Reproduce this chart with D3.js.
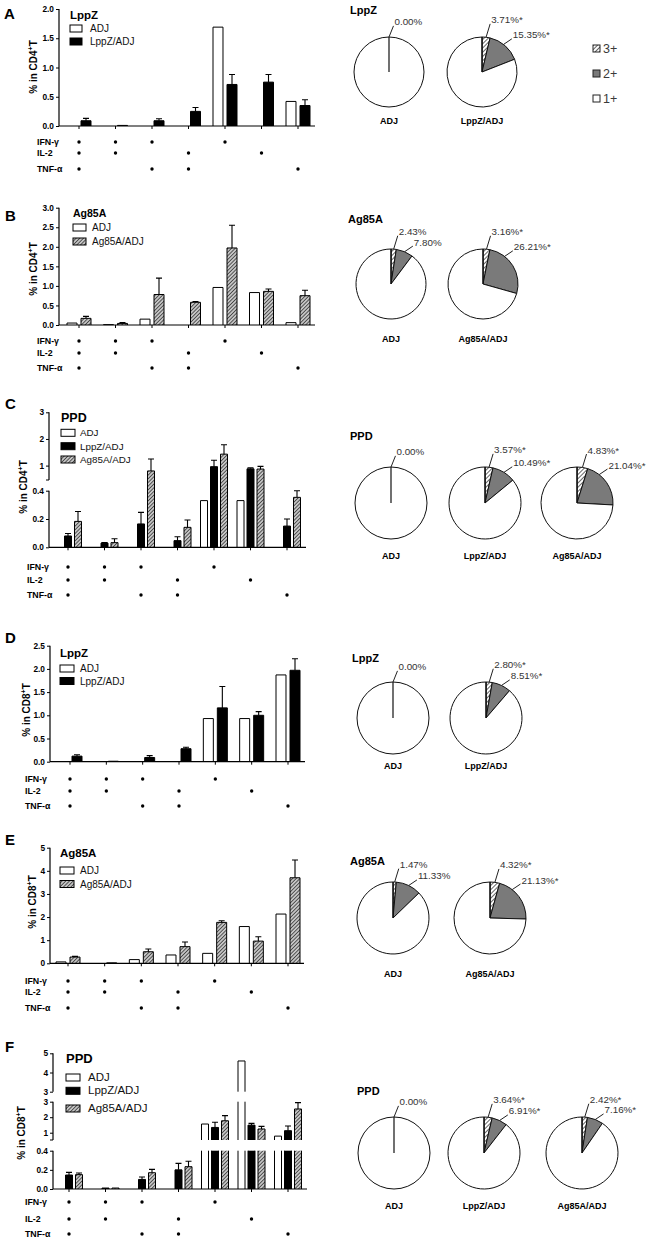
<!DOCTYPE html>
<html><head><meta charset="utf-8">
<script src="https://cdn.jsdelivr.net/npm/d3@7"></script>
<style>
body{margin:0;background:#fff}
svg{display:block}
text{font-family:"Liberation Sans",Arial,Helvetica,sans-serif}
</style>
</head><body>
<svg id="c" width="649" height="1239"></svg>
<script>
// ---------------- DATA ----------------
const cytokines = ["IFN-γ", "IL-2", "TNF-α"];
const combos = ["IFN-γ+IL-2+TNF-α", "IFN-γ+IL-2", "IFN-γ+TNF-α", "IL-2+TNF-α", "IFN-γ", "IL-2", "TNF-α"];
const comboMatrix = [[1,1,1],[1,1,0],[1,0,1],[0,1,1],[1,0,0],[0,1,0],[0,0,1]];

// A: LppZ, CD4
const A_ADJ      = [0, 0, 0, 0, 1.69, 0, 0.42];
const A_LppZ     = [0.09, 0.01, 0.09, 0.25, 0.71, 0.75, 0.35];
const A_LppZ_err = [0.04, 0, 0.035, 0.065, 0.17, 0.13, 0.10];
const A_yTicks   = [0, 0.5, 1.0, 1.5, 2.0];
// B: Ag85A, CD4
const B_ADJ       = [0.05, 0.01, 0.15, 0, 0.96, 0.83, 0.06];
const B_Ag85A     = [0.17, 0.04, 0.78, 0.58, 1.97, 0.86, 0.75];
const B_Ag85A_err = [0.05, 0.02, 0.42, 0.02, 0.58, 0.06, 0.14];
const B_yTicks    = [0, 0.5, 1.0, 1.5, 2.0, 2.5, 3.0];
// C: PPD, CD4 (broken axis)
const C_ADJ       = [0, 0, 0, 0, 0.33, 0.33, 0];
const C_LppZ      = [0.08, 0.03, 0.165, 0.047, 0.96, 0.88, 0.15];
const C_LppZ_err  = [0.018, 0.003, 0.082, 0.028, 0.24, 0.04, 0.05];
const C_Ag85A     = [0.183, 0.033, 0.80, 0.141, 1.43, 0.87, 0.353];
const C_Ag85A_err = [0.07, 0.027, 0.45, 0.052, 0.35, 0.10, 0.047];
const C_yTicksLow = [0, 0.2, 0.4];
const C_yTicksHigh = [1, 2, 3];
// D: LppZ, CD8
const D_ADJ      = [0, 0, 0, 0, 0.93, 0.93, 1.87];
const D_LppZ     = [0.12, 0.01, 0.09, 0.28, 1.16, 1.00, 1.97];
const D_LppZ_err = [0.03, 0, 0.04, 0.03, 0.46, 0.08, 0.25];
const D_yTicks   = [0, 0.5, 1.0, 1.5, 2.0, 2.5];
// E: Ag85A, CD8
const E_ADJ       = [0.06, 0, 0.16, 0.36, 0.43, 1.59, 2.13];
const E_Ag85A     = [0.27, 0.02, 0.50, 0.72, 1.77, 0.96, 3.70];
const E_Ag85A_err = [0.03, 0, 0.12, 0.20, 0.07, 0.19, 0.77];
const E_yTicks    = [0, 1, 2, 3, 4, 5];
// F: PPD, CD8 (two breaks)
const F_ADJ       = [0, 0, 0, 0, 1.56, 4.60, 0.78];
const F_LppZ      = [0.146, 0.01, 0.10, 0.20, 1.34, 1.49, 1.13];
const F_LppZ_err  = [0.028, 0, 0.025, 0.068, 0.33, 0.11, 0.30];
const F_Ag85A     = [0.15, 0.01, 0.17, 0.233, 1.77, 1.24, 2.53];
const F_Ag85A_err = [0.017, 0, 0.035, 0.057, 0.33, 0.17, 0.41];
const F_yTicksLow = [0, 0.2, 0.4];
const F_yTicksMid = [1, 2, 3];
const F_yTicksHigh = [3, 4, 5];

// Pies: percent of 3+ and 2+ producers
const pieLegendLabels = ["3+", "2+", "1+"];
const pieA_groups = ["ADJ", "LppZ/ADJ"];
const pieA_3plus = [0.00, 3.71];
const pieA_2plus = [0.00, 15.35];
const pieA_sig = [false, true];
const pieB_groups = ["ADJ", "Ag85A/ADJ"];
const pieB_3plus = [2.43, 3.16];
const pieB_2plus = [7.80, 26.21];
const pieB_sig = [false, true];
const pieC_groups = ["ADJ", "LppZ/ADJ", "Ag85A/ADJ"];
const pieC_3plus = [0.00, 3.57, 4.83];
const pieC_2plus = [0.00, 10.49, 21.04];
const pieC_sig = [false, true, true];
const pieD_groups = ["ADJ", "LppZ/ADJ"];
const pieD_3plus = [0.00, 2.80];
const pieD_2plus = [0.00, 8.51];
const pieD_sig = [false, true];
const pieE_groups = ["ADJ", "Ag85A/ADJ"];
const pieE_3plus = [1.47, 4.32];
const pieE_2plus = [11.33, 21.13];
const pieE_sig = [false, true];
const pieF_groups = ["ADJ", "LppZ/ADJ", "Ag85A/ADJ"];
const pieF_3plus = [0.00, 3.64, 2.42];
const pieF_2plus = [0.00, 6.91, 7.16];
const pieF_sig = [false, true, true];

// ---------------- RENDER ----------------
const svg = d3.select("#c");
const FONT = '"Liberation Sans", Arial, Helvetica, sans-serif';
const defs = svg.append("defs");
function hatch(id, bg, fg, sp, sw) {
  const p = defs.append("pattern").attr("id", id).attr("patternUnits", "userSpaceOnUse")
    .attr("width", sp).attr("height", sp).attr("patternTransform", "rotate(45)");
  p.append("rect").attr("width", sp).attr("height", sp).attr("fill", bg);
  p.append("line").attr("x1", sp/2).attr("y1", 0).attr("x2", sp/2).attr("y2", sp)
    .attr("stroke", fg).attr("stroke-width", sw);
}
hatch("barHatch", "#d0d0d0", "#454545", 2.6, 1);
hatch("pieHatch", "#ffffff", "#555555", 3, 0.9);
const FILL = {white: "#fff", black: "#000", hatch: "url(#barHatch)"};
const FMT = {".1f": d3.format(".1f"), "d": d3.format("d")};

const barPanels = [
  {letter: "A", lx: 4, ly: 19, axisX: 59, axisRight: 315, gx: [79, 298], continuous: true,
   segs: [{d: [0, 2], r: [126, 9], ticks: A_yTicks, fmt: ".1f"}],
   rows: [142, 153, 169], rowX: 37, yTitle: {x: 33, y: 67, cell: "CD4"},
   legend: {title: "LppZ", x: 70, ty: 19, tfs: 11.5, boxY: [25, 38], bw: 12, bh: 7, tx: 90, fs: 10},
   series: [{name: "ADJ", vals: A_ADJ, err: null, style: "white"},
            {name: "LppZ/ADJ", vals: A_LppZ, err: A_LppZ_err, style: "black"}]},
  {letter: "B", lx: 5, ly: 221, axisX: 59, axisRight: 315, gx: [79, 298], continuous: true,
   segs: [{d: [0, 3], r: [325, 207.7], ticks: B_yTicks, fmt: ".1f"}],
   rows: [341, 353, 368], rowX: 37, yTitle: {x: 33, y: 269, cell: "CD4"},
   legend: {title: "Ag85A", x: 73, ty: 217, tfs: 10.5, boxY: [224, 238], bw: 13, bh: 7, tx: 92, fs: 10},
   series: [{name: "ADJ", vals: B_ADJ, err: null, style: "white"},
            {name: "Ag85A/ADJ", vals: B_Ag85A, err: B_Ag85A_err, style: "hatch"}]},
  {letter: "C", lx: 5, ly: 409, axisX: 49, axisRight: 306, gx: [68, 287], continuous: true,
   segs: [{d: [0, 0.4], r: [547.3, 490.7], ticks: C_yTicksLow, fmt: ".1f"},
          {d: [0.46, 3], r: [480, 412.3], ticks: C_yTicksHigh, fmt: "d"}],
   rows: [567, 580, 595], rowX: 27, yTitle: {x: 23, y: 487, cell: "CD4"},
   legend: {title: "PPD", x: 61, ty: 422, tfs: 12.5, boxY: [429.3, 442.7, 456], bw: 14, bh: 7, tx: 80, fs: 9.8},
   series: [{name: "ADJ", vals: C_ADJ, err: null, style: "white"},
            {name: "LppZ/ADJ", vals: C_LppZ, err: C_LppZ_err, style: "black"},
            {name: "Ag85A/ADJ", vals: C_Ag85A, err: C_Ag85A_err, style: "hatch"}]},
  {letter: "D", lx: 5, ly: 643, axisX: 50, axisRight: 305, gx: [70, 288], continuous: true,
   segs: [{d: [0, 2.5], r: [761.7, 645.7], ticks: D_yTicks, fmt: ".1f"}],
   rows: [779, 791, 806], rowX: 25, yTitle: {x: 26, y: 710, cell: "CD8"},
   legend: {title: "LppZ", x: 60, ty: 657, tfs: 11.5, boxY: [665, 677.5], bw: 14, bh: 7, tx: 80, fs: 10},
   series: [{name: "ADJ", vals: D_ADJ, err: null, style: "white"},
            {name: "LppZ/ADJ", vals: D_LppZ, err: D_LppZ_err, style: "black"}]},
  {letter: "E", lx: 5, ly: 845, axisX: 50, axisRight: 304, gx: [68, 288], continuous: true,
   segs: [{d: [0, 5], r: [963.3, 847.7], ticks: E_yTicks, fmt: "d"}],
   rows: [981, 992, 1008], rowX: 25, yTitle: {x: 32, y: 902, cell: "CD8"},
   legend: {title: "Ag85A", x: 60, ty: 857, tfs: 11.5, boxY: [867, 880.5], bw: 14, bh: 7, tx: 80, fs: 10},
   series: [{name: "ADJ", vals: E_ADJ, err: null, style: "white"},
            {name: "Ag85A/ADJ", vals: E_Ag85A, err: E_Ag85A_err, style: "hatch"}]},
  {letter: "F", lx: 5, ly: 1052, axisX: 53, axisRight: 307, gx: [69, 288], continuous: false,
   segs: [{d: [0, 0.4], r: [1189, 1150.7], ticks: F_yTicksLow, fmt: ".1f"},
          {d: [0.53, 3], r: [1140, 1101.7], ticks: F_yTicksMid, fmt: "d"},
          {d: [3, 5], r: [1091.7, 1053.3], ticks: F_yTicksHigh, fmt: "d"}],
   rows: [1202, 1219, 1234], rowX: 25, yTitle: {x: 21, y: 1133, cell: "CD8"},
   legend: {title: "PPD", x: 66, ty: 1063, tfs: 13, boxY: [1074, 1087.3, 1105], bw: 14, bh: 7, tx: 88, fs: 11.5},
   series: [{name: "ADJ", vals: F_ADJ, err: null, style: "white"},
            {name: "LppZ/ADJ", vals: F_LppZ, err: F_LppZ_err, style: "black"},
            {name: "Ag85A/ADJ", vals: F_Ag85A, err: F_Ag85A_err, style: "hatch"}]}
];

function drawBarPanel(cfg) {
  const g = svg.append("g");
  g.append("text").attr("x", cfg.lx).attr("y", cfg.ly).attr("font-size", 15).attr("font-weight", "bold").text(cfg.letter);

  const x = d3.scalePoint().domain(combos).range(cfg.gx);
  const n = cfg.series.length;
  const sub = d3.scaleBand().domain(cfg.series.map(s => s.name))
    .range(n === 2 ? [-12, 12] : [-13.5, 13.5]).paddingInner(n === 2 ? 0.286 : 0.3);
  const bw = sub.bandwidth();

  const segScales = cfg.segs.map(s => ({lo: s.d[0], hi: s.d[1], y: d3.scaleLinear().domain(s.d).range(s.r), s}));
  let pieces;
  if (cfg.continuous) {
    const yAll = d3.scaleLinear().domain(cfg.segs.flatMap(s => s.d)).range(cfg.segs.flatMap(s => s.r));
    pieces = [{lo: cfg.segs[0].d[0], hi: cfg.segs[cfg.segs.length - 1].d[1], y: yAll}];
  } else pieces = segScales;
  const yOf = v => {
    for (const p of pieces) if (v >= p.lo && v <= p.hi) return p.y(v);
    for (let i = pieces.length - 1; i >= 0; i--) if (v > pieces[i].hi) return pieces[i].y(pieces[i].hi);
    return pieces[0].y(v);
  };
  const y0 = segScales[0].y(0);

  // y axis segments
  segScales.forEach(ss => {
    const ax = d3.axisLeft(ss.y).tickValues(ss.s.ticks).tickFormat(FMT[ss.s.fmt]).tickSize(3).tickSizeOuter(0).tickPadding(2);
    const ag = g.append("g").attr("transform", `translate(${cfg.axisX},0)`).call(ax);
    ag.select(".domain").remove();
    ag.attr("font-family", FONT).attr("font-size", 8.3).attr("font-weight", "bold");
    ag.selectAll(".tick line").attr("stroke", "#000").attr("stroke-width", 1);
    ag.selectAll(".tick text").attr("fill", "#000");
    g.append("line").attr("x1", cfg.axisX).attr("x2", cfg.axisX)
      .attr("y1", ss.y(ss.lo)).attr("y2", ss.y(ss.hi)).attr("stroke", "#000").attr("stroke-width", 1.2);
    [ss.lo, ss.hi].forEach(v => {
      if (!ss.s.ticks.includes(v)) g.append("line").attr("x1", cfg.axisX - 3).attr("x2", cfg.axisX)
        .attr("y1", ss.y(v)).attr("y2", ss.y(v)).attr("stroke", "#000").attr("stroke-width", 1);
    });
  });

  // y title
  const yt = g.append("text").attr("transform", `translate(${cfg.yTitle.x + 3.5},${cfg.yTitle.y}) rotate(-90)`)
    .attr("text-anchor", "middle").attr("font-size", 10).attr("font-weight", "bold");
  yt.append("tspan").text("% in " + cfg.yTitle.cell);
  yt.append("tspan").attr("font-size", 7).attr("dy", -4).text("+");
  yt.append("tspan").attr("dy", 4).text("T");

  // bars
  cfg.series.forEach(s => {
    const sg = g.append("g");
    s.vals.forEach((v, i) => {
      if (!(v > 0)) return;
      const xl = x(combos[i]) + sub(s.name), xr = xl + bw;
      pieces.forEach((p, pi) => {
        if (v <= p.lo && pi > 0) return;
        const top = Math.min(v, p.hi);
        const yb = p.y(p.lo), yt2 = p.y(top);
        sg.append("rect").attr("x", xl).attr("y", yt2).attr("width", bw).attr("height", Math.max(0, yb - yt2))
          .attr("fill", FILL[s.style]);
        const d = v <= p.hi ? `M${xl},${yb}V${yt2}H${xr}V${yb}` : `M${xl},${yb}V${yt2}M${xr},${yt2}V${yb}`;
        sg.append("path").attr("d", d).attr("fill", "none").attr("stroke", "#000").attr("stroke-width", 1);
      });
      if (s.err && s.err[i] > 0) {
        const cx = (xl + xr) / 2, ya = yOf(v), yb2 = yOf(v + s.err[i]);
        sg.append("path").attr("d", `M${cx},${ya}V${yb2}M${cx - 3},${yb2}H${cx + 3}`)
          .attr("stroke", "#000").attr("stroke-width", 1.1).attr("fill", "none");
      }
    });
  });

  // x axis
  g.append("line").attr("x1", cfg.axisX).attr("x2", cfg.axisRight).attr("y1", y0).attr("y2", y0)
    .attr("stroke", "#000").attr("stroke-width", 1.2);
  combos.forEach(c => g.append("line").attr("x1", x(c)).attr("x2", x(c)).attr("y1", y0).attr("y2", y0 + 3)
    .attr("stroke", "#000").attr("stroke-width", 1));

  // cytokine rows
  cytokines.forEach((ck, r) => {
    g.append("text").attr("x", cfg.rowX).attr("y", cfg.rows[r] + 3).attr("font-size", 8.8).attr("font-weight", "bold").text(ck);
    combos.forEach((c, i) => {
      if (comboMatrix[i][r]) g.append("circle").attr("cx", x(c)).attr("cy", cfg.rows[r]).attr("r", 1.7).attr("fill", "#000");
    });
  });

  // legend
  const L = cfg.legend;
  g.append("text").attr("x", L.x).attr("y", L.ty).attr("font-size", L.tfs).attr("font-weight", "bold").text(L.title);
  cfg.series.forEach((s, k) => {
    g.append("rect").attr("x", L.x).attr("y", L.boxY[k]).attr("width", L.bw).attr("height", L.bh)
      .attr("fill", FILL[s.style]).attr("stroke", "#000").attr("stroke-width", 1);
    g.append("text").attr("x", L.tx).attr("y", L.boxY[k] + L.bh).attr("font-size", L.fs).attr("fill", "#111").text(s.name);
  });
}
barPanels.forEach(drawBarPanel);

// ---------------- PIES ----------------
const pieLayouts = [
  {title: "LppZ", tx: 350, ty: 14, r: 35, centers: [[389, 72], [482, 72]], labY: 123.5,
   groups: pieA_groups, p3: pieA_3plus, p2: pieA_2plus, sig: pieA_sig},
  {title: "Ag85A", tx: 348, ty: 223, r: 35, centers: [[391, 284], [483, 284]], labY: 341.5,
   groups: pieB_groups, p3: pieB_3plus, p2: pieB_2plus, sig: pieB_sig},
  {title: "PPD", tx: 350, ty: 440, r: 36, centers: [[391, 503], [485, 503], [577, 503]], labY: 558.5,
   groups: pieC_groups, p3: pieC_3plus, p2: pieC_2plus, sig: pieC_sig},
  {title: "LppZ", tx: 352, ty: 662, r: 36, centers: [[393, 718], [486, 718]], labY: 768.5,
   groups: pieD_groups, p3: pieD_3plus, p2: pieD_2plus, sig: pieD_sig},
  {title: "Ag85A", tx: 350, ty: 865, r: 36, centers: [[393, 918], [490, 918]], labY: 976.5,
   groups: pieE_groups, p3: pieE_3plus, p2: pieE_2plus, sig: pieE_sig},
  {title: "PPD", tx: 357, ty: 1095, r: 36, centers: [[394, 1153], [484, 1153], [582, 1153]], labY: 1208.5,
   groups: pieF_groups, p3: pieF_3plus, p2: pieF_2plus, sig: pieF_sig}
];
const PIEFILL = ["url(#pieHatch)", "#7a7a7a", "#ffffff"];
const rad = a => a * Math.PI / 180;
const polar = (r, a) => [r * Math.sin(a), -r * Math.cos(a)];

function leader(g, start, angDeg, len, txt) {
  const e = [start[0] + len * Math.sin(rad(angDeg)), start[1] - len * Math.cos(rad(angDeg))];
  g.append("line").attr("x1", start[0]).attr("y1", start[1]).attr("x2", e[0]).attr("y2", e[1])
    .attr("stroke", "#222").attr("stroke-width", 1);
  g.append("text").attr("x", e[0] + 1).attr("y", e[1] - 0.5).attr("font-size", 9.8).attr("fill", "#333").text(txt);
}

function drawPiePanel(cfg) {
  const g = svg.append("g");
  g.append("text").attr("x", cfg.tx).attr("y", cfg.ty).attr("font-size", 11).attr("font-weight", "bold").text(cfg.title);
  const arc = d3.arc().innerRadius(0).outerRadius(cfg.r);
  cfg.groups.forEach((name, i) => {
    const [cx, cy] = cfg.centers[i];
    const pg = g.append("g").attr("transform", `translate(${cx},${cy})`);
    const vals = [cfg.p3[i], cfg.p2[i], 100 - cfg.p3[i] - cfg.p2[i]];
    const arcs = d3.pie().sort(null).value(d => d)(vals);
    pg.selectAll("path").data(arcs.filter(a => a.value > 0)).join("path")
      .attr("d", arc).attr("fill", d => PIEFILL[d.index]).attr("stroke", "#111").attr("stroke-width", 1);
    pg.append("line").attr("x1", 0).attr("y1", 0).attr("x2", 0).attr("y2", -cfg.r).attr("stroke", "#111").attr("stroke-width", 1.2);
    const star = cfg.sig[i] ? "*" : "";
    if (cfg.p3[i] === 0 && cfg.p2[i] === 0) {
      leader(pg, [0, -cfg.r], 22, 12, "0.00%");
    } else {
      const m3 = (arcs[0].startAngle + arcs[0].endAngle) / 2;
      leader(pg, polar(cfg.r, m3), 17, 14, cfg.p3[i].toFixed(2) + "%" + star);
      const m2 = Math.min((arcs[1].startAngle + arcs[1].endAngle) / 2, rad(38));
      leader(pg, polar(cfg.r, m2), 56, 10, cfg.p2[i].toFixed(2) + "%" + star);
    }
    g.append("text").attr("x", cx).attr("y", cfg.labY).attr("text-anchor", "middle")
      .attr("font-size", 9).attr("font-weight", "bold").text(name);
  });
}
pieLayouts.forEach(drawPiePanel);

// pie legend (panel A)
const pl = svg.append("g");
const plY = [45, 70, 95];
pieLegendLabels.forEach((lab, k) => {
  pl.append("rect").attr("x", 593).attr("y", plY[k]).attr("width", 7).attr("height", 7)
    .attr("fill", PIEFILL[k]).attr("stroke", "#222").attr("stroke-width", 1);
  pl.append("text").attr("x", 603).attr("y", plY[k] + 8).attr("font-size", 12.5).attr("fill", "#3a3a3a").text(lab);
});
</script>
</body></html>
